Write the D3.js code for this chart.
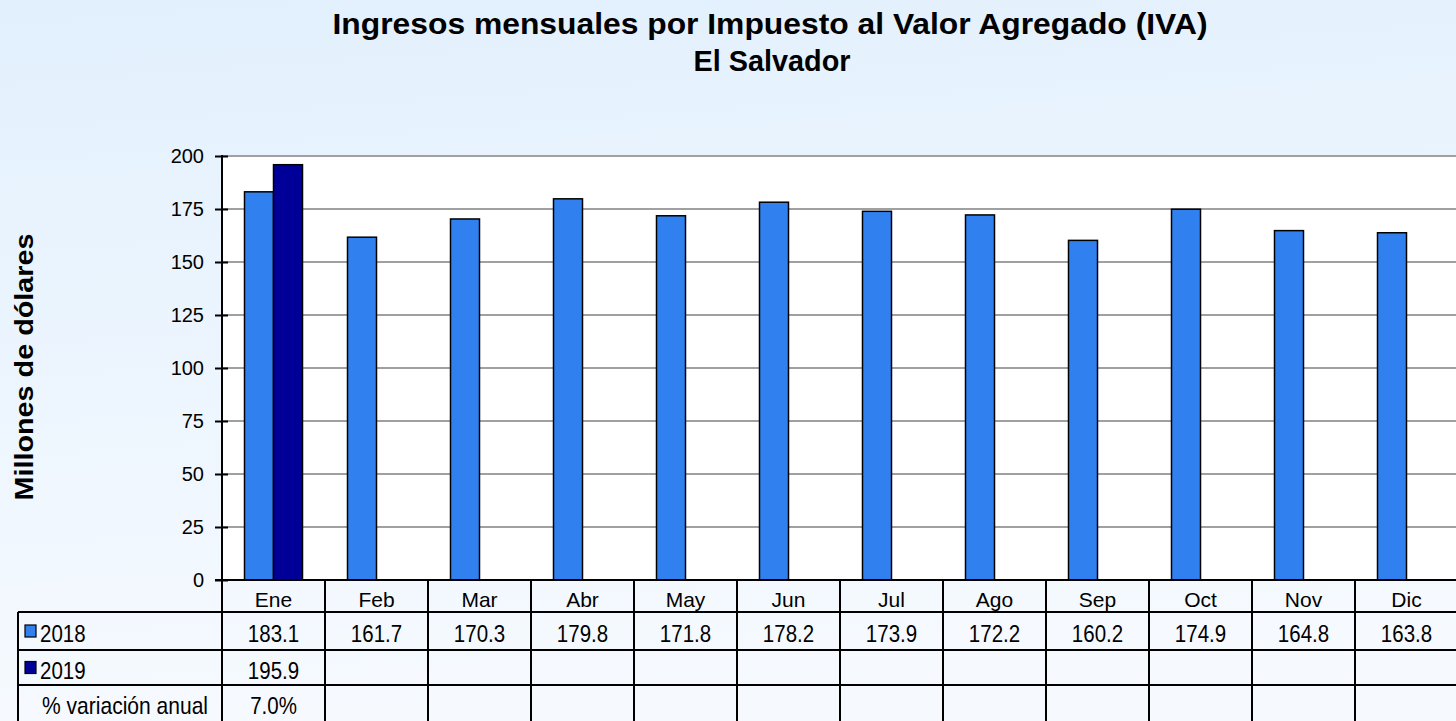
<!DOCTYPE html>
<html>
<head>
<meta charset="utf-8">
<script src="https://cdn.jsdelivr.net/npm/d3@7"></script>
<style>
  html, body { margin: 0; padding: 0; }
  body { width: 1456px; height: 721px; overflow: hidden; }
  svg { display: block; font-family: "Liberation Sans", Arial, sans-serif; }
</style>
</head>
<body>
<svg id="chart" width="1456" height="721"></svg>
<script>
// Monthly VAT revenue, millions of US dollars
const months = ["Ene", "Feb", "Mar", "Abr", "May", "Jun", "Jul", "Ago", "Sep", "Oct", "Nov", "Dic"];
const values2018 = [183.1, 161.7, 170.3, 179.8, 171.8, 178.2, 173.9, 172.2, 160.2, 174.9, 164.8, 163.8];
const values2019 = [195.9];
const variation = ["7.0%"];
const seriesNames = ["2018", "2019"];
const seriesColors = ["#3080F0", "#000099"];
const yTicks = [0, 25, 50, 75, 100, 125, 150, 175, 200];

const W = 1456, H = 721;
const plot = { left: 222, right: 1458, top: 156, bottom: 580 };
const svg = d3.select("#chart");

// background gradient
const defs = svg.append("defs");
const grad = defs.append("linearGradient").attr("id", "bg").attr("x1", 0).attr("y1", 0).attr("x2", 0.15).attr("y2", 1);
grad.append("stop").attr("offset", "0%").attr("stop-color", "#e2f0fd");
grad.append("stop").attr("offset", "100%").attr("stop-color", "#f6faff");
svg.append("rect").attr("width", W).attr("height", H).attr("fill", "url(#bg)");

// scales
const x = d3.scaleBand().domain(months).range([plot.left, plot.right]);
const y = d3.scaleLinear().domain([0, 200]).range([plot.bottom, plot.top]);
const barW = 29;

// plot area
svg.append("rect").attr("x", plot.left).attr("y", plot.top)
  .attr("width", plot.right - plot.left).attr("height", plot.bottom - plot.top).attr("fill", "#ffffff");

// gridlines
svg.append("g").selectAll("line").data(yTicks.filter(d => d > 0)).join("line")
  .attr("x1", plot.left).attr("x2", plot.right)
  .attr("y1", d => y(d)).attr("y2", d => y(d))
  .attr("stroke", "#a0a0a0").attr("stroke-width", 2);

// bars
const rows = [values2018, values2019];
rows.forEach((vals, si) => {
  svg.append("g").selectAll("rect").data(vals).join("rect")
    .attr("x", (d, i) => x(months[i]) + x.bandwidth() / 2 + (si === 0 ? -barW : 0))
    .attr("y", d => y(d))
    .attr("width", barW)
    .attr("height", d => y(0) - y(d))
    .attr("fill", seriesColors[si])
    .attr("stroke", "#000").attr("stroke-width", 1.5);
});

// y axis
const yAxis = d3.axisLeft(y).tickValues(yTicks).tickSize(0).tickPadding(18);
const gy = svg.append("g").attr("transform", `translate(${plot.left},0)`).call(yAxis);
gy.select(".domain").remove();
gy.selectAll("text").attr("font-size", 20).attr("fill", "#000").attr("font-family", "Liberation Sans, Arial, sans-serif");
gy.selectAll(".tick").append("line").attr("x1", -7).attr("x2", 6).attr("stroke", "#000").attr("stroke-width", 2);
svg.append("line").attr("x1", plot.left).attr("x2", plot.left).attr("y1", plot.top - 1).attr("y2", H)
  .attr("stroke", "#000").attr("stroke-width", 2);

// data table
const tableLeft = 18;
const rowY = [580, 612, 650, 685, 721];
const tbl = svg.append("g");
// horizontal lines
tbl.append("line").attr("x1", plot.left - 7).attr("x2", plot.right).attr("y1", rowY[0]).attr("y2", rowY[0])
  .attr("stroke", "#000").attr("stroke-width", 2);
[1, 2, 3].forEach(r => {
  tbl.append("line").attr("x1", tableLeft).attr("x2", plot.right).attr("y1", rowY[r]).attr("y2", rowY[r])
    .attr("stroke", "#000").attr("stroke-width", 2);
});
// vertical lines
tbl.append("line").attr("x1", tableLeft).attr("x2", tableLeft).attr("y1", rowY[1]).attr("y2", H)
  .attr("stroke", "#000").attr("stroke-width", 2);
tbl.selectAll("line.col").data(months.slice(1)).join("line").attr("class", "col")
  .attr("x1", d => x(d)).attr("x2", d => x(d)).attr("y1", rowY[0]).attr("y2", H)
  .attr("stroke", "#000").attr("stroke-width", 2);

// table cell text; body rows are drawn slightly tall
const cellText = (txt, cx, r, anchor = "middle") => {
  const base = (rowY[r] + rowY[r + 1]) / 2 + 11;
  const sy = r === 0 ? 1 : 1.2;
  return tbl.append("text")
    .attr("transform", `translate(${cx},${base}) scale(1,${sy})`)
    .attr("text-anchor", anchor).attr("font-size", r === 0 ? 21 : 20.5).attr("fill", "#000").text(txt);
};

months.forEach(m => cellText(m, x(m) + x.bandwidth() / 2, 0));
values2018.forEach((v, i) => cellText(v.toFixed(1), x(months[i]) + x.bandwidth() / 2, 1));
values2019.forEach((v, i) => cellText(v.toFixed(1), x(months[i]) + x.bandwidth() / 2, 2));
variation.forEach((v, i) => cellText(v, x(months[i]) + x.bandwidth() / 2, 3));

// row headers with legend keys
seriesNames.forEach((name, si) => {
  const r = si + 1;
  const cy = (rowY[r] + rowY[r + 1]) / 2;
  tbl.append("rect").attr("x", 25).attr("y", cy - 6).attr("width", 11).attr("height", 12)
    .attr("fill", seriesColors[si]).attr("stroke", "#000").attr("stroke-width", 1.2);
  cellText(name, 40, r, "start");
});
cellText("% variación anual", 125, 3).attr("textLength", 166).attr("lengthAdjust", "spacingAndGlyphs");

// titles
svg.append("text").attr("x", 770).attr("y", 34).attr("text-anchor", "middle")
  .attr("font-size", 30).attr("font-weight", "bold").attr("fill", "#000")
  .attr("textLength", 875).attr("lengthAdjust", "spacingAndGlyphs")
  .text("Ingresos mensuales por Impuesto al Valor Agregado (IVA)");
svg.append("text").attr("x", 772).attr("y", 71).attr("text-anchor", "middle")
  .attr("font-size", 29).attr("font-weight", "bold").attr("fill", "#000")
  .attr("textLength", 157).attr("lengthAdjust", "spacingAndGlyphs")
  .text("El Salvador");
svg.append("text").attr("transform", "translate(33,367) rotate(-90)").attr("text-anchor", "middle")
  .attr("font-size", 25).attr("font-weight", "bold").attr("fill", "#000")
  .attr("textLength", 267).attr("lengthAdjust", "spacingAndGlyphs")
  .text("Millones de dólares");
</script>
</body>
</html>
